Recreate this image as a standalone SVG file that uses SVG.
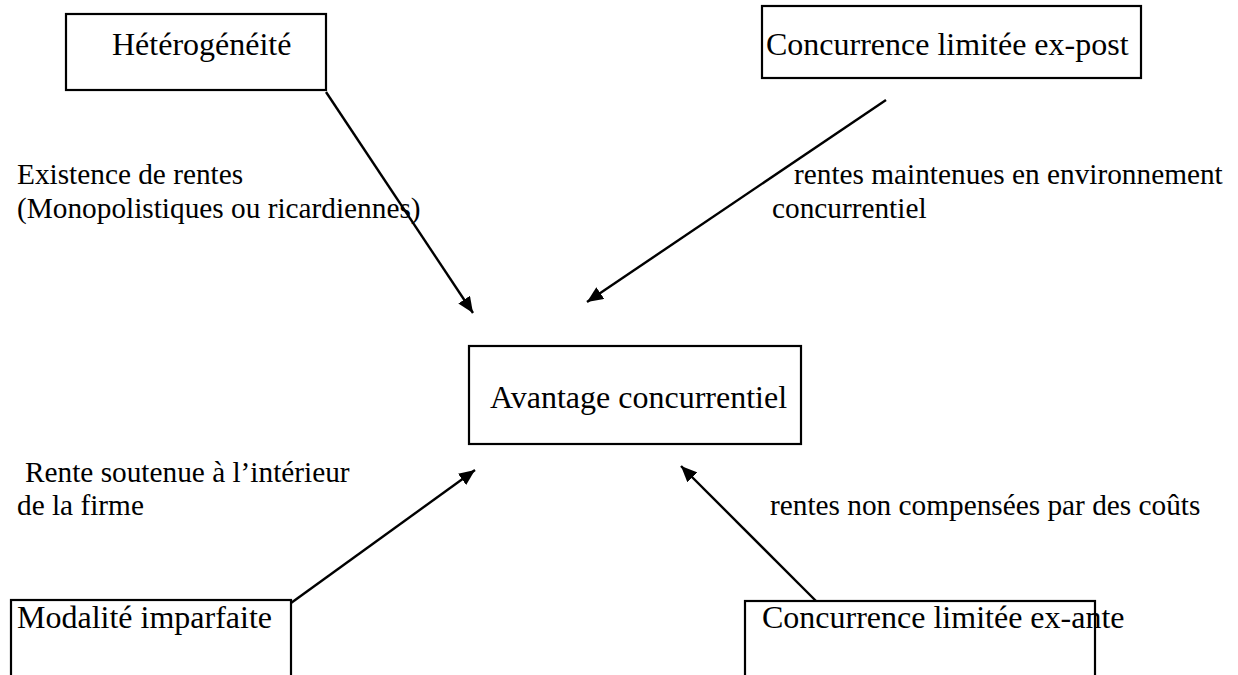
<svg xmlns="http://www.w3.org/2000/svg" width="1238" height="675" viewBox="0 0 1238 675">
<style>
  .box { fill: #fff; stroke: #000; stroke-width: 2.2; }
  .nt { font-family: "Liberation Serif", "Times New Roman", serif; font-size: 32px; fill: #000; }
  .lt { font-family: "Liberation Serif", "Times New Roman", serif; font-size: 29.3px; fill: #000; }
  .conn { stroke: #000; stroke-width: 2.4; fill: none; marker-end: url(#arr); }
</style>
<defs>
  <marker id="arr" markerUnits="userSpaceOnUse" markerWidth="17" markerHeight="14" refX="16" refY="7" orient="auto">
    <path d="M0,0 L16,7 L0,14 z" fill="#000"/>
  </marker>
</defs>
<rect width="1238" height="675" fill="#fff"/>

<g id="connectors">
  <line class="conn" x1="326" y1="92" x2="473" y2="313"/>
  <line class="conn" x1="886" y1="100" x2="587" y2="302"/>
  <line class="conn" x1="291" y1="603" x2="475" y2="470"/>
  <line class="conn" x1="816" y1="601" x2="681" y2="466"/>
</g>

<g id="node-heterogeneite">
  <rect class="box" x="66" y="14" width="260" height="76"/>
  <text class="nt" x="112" y="55">Hétérogénéité</text>
</g>

<g id="node-expost">
  <rect class="box" x="762" y="6" width="379" height="72"/>
  <text class="nt" x="766" y="55">Concurrence limitée ex-post</text>
</g>

<g id="node-avantage">
  <rect class="box" x="469" y="346" width="332" height="98"/>
  <text class="nt" x="490" y="408">Avantage concurrentiel</text>
</g>

<g id="node-modalite">
  <rect class="box" x="11" y="600" width="280" height="90"/>
  <text class="nt" x="17" y="628">Modalité imparfaite</text>
</g>

<g id="node-exante">
  <rect class="box" x="745" y="601" width="350" height="90"/>
  <text class="nt" x="762" y="628">Concurrence limitée ex-ante</text>
</g>

<g id="labels">
  <text class="lt" x="17" y="184">Existence de rentes</text>
  <text class="lt" x="17" y="218">(Monopolistiques ou ricardiennes)</text>
  <text class="lt" x="794" y="184">rentes maintenues en environnement</text>
  <text class="lt" x="772" y="218">concurrentiel</text>
  <text class="lt" x="25" y="482"> Rente soutenue à l’intérieur</text>
  <text class="lt" x="17" y="515">de la firme</text>
  <text class="lt" x="770" y="515">rentes non compensées par des coûts</text>
</g>
</svg>
